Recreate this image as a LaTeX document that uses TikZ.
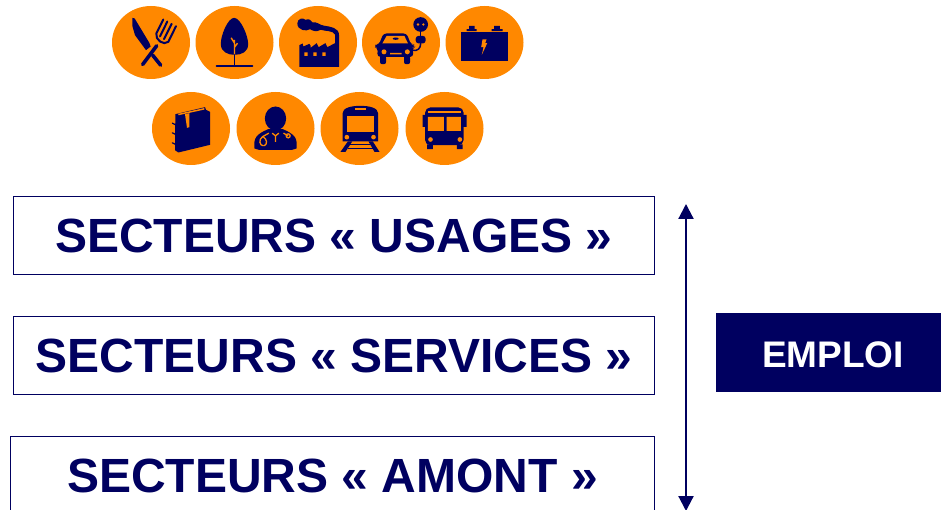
\documentclass[tikz,border=0pt]{standalone}
\usepackage{fontspec}
\setmainfont{Liberation Sans}
\usetikzlibrary{arrows.meta, shapes.geometric}
\definecolor{navyD}{HTML}{000060}
\definecolor{orangeD}{HTML}{FF8800}
\tikzset{
    disc/.style={ellipse, fill=orangeD, minimum width=78pt, minimum height=73pt, inner sep=0pt},
    secteur/.style={draw=navyD, line width=1.3pt, fill=white, text=navyD, inner sep=0pt, minimum width=641pt, minimum height=78pt, font=\fontsize{48}{58}\selectfont\bfseries},
    emploi/.style={fill=navyD, text=white, inner sep=0pt, minimum width=240pt, minimum height=79pt, font=\fontsize{37}{44}\selectfont\bfseries},
    dark/.style={fill=navyD, draw=none},
    hole/.style={fill=orangeD, draw=none},
    darkline/.style={draw=navyD, line cap=round},
    holeline/.style={draw=orangeD},
    flow/.style={draw=navyD, line width=2.2pt, {Triangle[length=15pt,width=15pt]}-{Triangle[length=15pt,width=15pt]}}
}
\begin{document}
\begin{tikzpicture}[x=1pt,y=-1pt]
    \clip (0,0) rectangle (941,510);
    \node[disc] (n1) at (151,42.5) {};
    \node[disc] (n2) at (234.5,42.5) {};
    \node[disc] (n3) at (318,42.5) {};
    \node[disc] (n4) at (401,42.5) {};
    \node[disc] (n5) at (484.5,42.5) {};
    \node[disc] (n6) at (191,128.5) {};
    \node[disc] (n7) at (275.5,128.5) {};
    \node[disc] (n8) at (359.5,128.5) {};
    \node[disc] (n9) at (444.5,128.5) {};
    % knife and fork
    \begin{scope}[shift={(n1.center)}, scale=1/3]
    \fill[dark] (-56,-74) -- (-49,-72) -- (-5,1) -- (-1,12) -- (-15,23) -- (-48,-22) -- (-56,-50) -- cycle;
    \draw[darkline, line width=3.6pt] (5,38) -- (29,68);
    \draw[darkline, line width=3.6pt] (-25,66) -- (17,10);
    \draw[darkline, line width=2pt] (37,-69) -- (16,-27) .. controls (12,-8) and (38,10) .. (52,-2) -- (75,-49);
    \draw[darkline, line width=2pt] (49,-63) -- (27,-18);
    \draw[darkline, line width=2pt] (62,-56) -- (39,-10);
    \end{scope}
    % tree
    \begin{scope}[shift={(n2.center)}, scale=1/3]
    \fill[dark] (-1,-74) .. controls (-20,-74) and (-42,-20) .. (-41,5) .. controls (-41,28) and (-20,37) .. (0,37) .. controls (22,37) and (41,28) .. (41,5) .. controls (41,-20) and (18,-74) .. (-1,-74) -- cycle;
    \draw[holeline, line width=1.4pt] (0,38) -- (0,-8) (0,14) -- (9,2) (0,2) -- (-10,-14);
    \draw[darkline, line width=1.8pt] (0,37) -- (0,70);
    \draw[darkline, line width=1.8pt] (-54,70) -- (54,70);
    \end{scope}
    % factory
    \begin{scope}[shift={(n3.center)}, scale=1/3]
    \fill[dark] (-62,-57) .. controls (-62,-72) and (-45,-76) .. (-38,-68) .. controls (-28,-72) and (-20,-68) .. (-16,-60) .. controls (-4,-64) and (4,-52) .. (20,-50) .. controls (36,-48) and (64,-44) .. (63,-22) -- (63,73) -- (-56,73) -- (-56,8) -- (-46,3) -- (-44,12) -- (-26,4) -- (-22,10) -- (-22,16) -- (-4,2) -- (2,14) -- (22,2) -- (28,14) -- (51,2) -- (51,-24) .. controls (46,-36) and (20,-34) .. (8,-38) .. controls (-6,-30) and (-18,-36) .. (-24,-40) .. controls (-34,-32) and (-62,-36) .. (-62,-57) -- cycle;
    \fill[hole] (-41,30) rectangle (-31,40) (-14,30) rectangle (-4,40) (13,30) rectangle (23,40);
    \end{scope}
    % car and plug
    \begin{scope}[shift={(n4.center)}, scale=1/3]
    \fill[dark, rounded corners=3pt] (-53,-27) -- (17,-27) -- (30,6) -- (39,6) -- (39,14) -- (35,16) -- (37,43) -- (-71,43) -- (-70,16) -- (-78,14) -- (-78,6) -- (-66,6) -- cycle;
    \fill[hole] (-56,3) -- (-43,-20) -- (10,-20) -- (21,3) -- cycle;
    \fill[dark] (-16,-11.5) ellipse (9 and 3.5);
    \fill[hole] (-51,28) circle (7.5) (19,28) circle (7.5) (-33,31) rectangle (2,36);
    \fill[dark, rounded corners=2pt] (-63,40) rectangle (-45,65) (9,40) rectangle (27,65);
    \fill[dark] (59,-54) circle (22);
    \fill[hole] (51,-54) circle (4) (67,-54) circle (4);
    \fill[dark, rounded corners=3pt] (44,-20) rectangle (74,3);
    \draw[darkline, line width=1.5pt] (59,-34) -- (59,-18);
    \draw[darkline, line width=1.5pt] (59,3) .. controls (59,18) and (50,26) .. (35,24);
    \end{scope}
    % battery
    \begin{scope}[shift={(n5.center)}, scale=1/3]
    \fill[dark] (-70,-30) rectangle (70,56);
    \fill[dark] (-54,-34) -- (-54,-40) -- (-46,-40) -- (-46,-50) -- (-30,-50) -- (-30,-40) -- (-24,-40) -- (-24,-34) -- cycle;
    \fill[dark] (21,-34) -- (21,-40) -- (29,-40) -- (29,-50) -- (46,-50) -- (46,-40) -- (54,-40) -- (54,-34) -- cycle;
    \fill[hole] (-6,-9) -- (6,-9) -- (2,2) -- (8,2) -- (-8,37) -- (-3,14) -- (-10,14) -- cycle;
    \end{scope}
    % book
    \begin{scope}[shift={(n6.center)}, scale=1/3]
    \fill[dark] (-47,-43) -- (42,-64) -- (45,-56) -- (57,-50) -- (57,49) -- (-38,72) -- (-48,65) -- cycle;
    \draw[holeline, line width=1.5pt] (-38,-42) -- (40,-59);
    \fill[hole] (-18,-43) -- (-5,-46) -- (-5,-4) -- (-12,-2) -- cycle;
    \draw[darkline, line width=1.2pt] (-56,-16) -- (-46,-11) (-56,13) -- (-46,18) (-56,43) -- (-46,48);
    \end{scope}
    % doctor
    \begin{scope}[shift={(n7.center)}, scale=1/3]
    \fill[dark] (0,-30) ellipse (32 and 36);
    \fill[dark] (-63,60) .. controls (-66,30) and (-60,18) .. (-22,2) -- (22,2) .. controls (60,18) and (66,30) .. (63,60) -- (50,64) -- (-50,64) -- cycle;
    \draw[holeline, line width=1.3pt] (-20,14) -- (-38,24) .. controls (-52,32) and (-48,52) .. (-36,52) (-38,24) .. controls (-24,32) and (-24,48) .. (-34,52);
    \draw[holeline, line width=1.3pt] (-10,14) -- (0,22) -- (10,14) (0,22) -- (0,40) (24,14) -- (38,22);
    \draw[holeline, line width=1.3pt] (38,22) circle (6);
    \end{scope}
    % train
    \begin{scope}[shift={(n8.center)}, scale=1/3]
    \fill[dark] (-51,39) -- (-51,-45) .. controls (-51,-62) and (-25,-68) .. (2,-68) .. controls (30,-68) and (56,-62) .. (56,-45) -- (56,39) -- cycle;
    \fill[hole] (-38,-37) rectangle (42,10);
    \fill[hole] (-15,-60) rectangle (19,-54);
    \fill[hole] (-38,26) circle (7) (42,26) circle (7);
    \fill[dark] (-35,39) -- (-22,39) -- (-42,70) -- (-57,70) -- cycle;
    \fill[dark] (40,39) -- (27,39) -- (45,70) -- (60,70) -- cycle;
    \draw[draw=navyD, line width=1.5pt] (-28,48) -- (32,48) (-36,60) -- (40,60);
    \end{scope}
    % bus
    \begin{scope}[shift={(n9.center)}, scale=1/3]
    \fill[dark, rounded corners=5pt] (-58,-63) rectangle (57,50);
    \fill[dark] (-66,-41) rectangle (-56,-5) (55,-41) rectangle (66,-5);
    \fill[hole] (-49,-51) rectangle (48,-46);
    \fill[hole] (-50,-35) rectangle (-2,7) (6,-35) rectangle (49,7);
    \fill[hole] (-42,33) circle (7) (46,33) circle (7);
    \fill[dark] (-52,48) rectangle (-35,62) (37,48) rectangle (54,62);
    \end{scope}
    \node[secteur] (usages) at (334,235.5) {SECTEURS « USAGES »};
    \node[secteur] (services) at (334,355.5) {SECTEURS « SERVICES »};
    \node[secteur, minimum width=644pt] (amont) at (332.5,475.5) {SECTEURS « AMONT »};
    \node[emploi] (job) at (836,352.5) {};
    \node[text=white, font=\fontsize{37}{44}\selectfont\bfseries, inner sep=0pt] (jobtext) at (833,354.5) {EMPLOI};
    \coordinate (top) at (686,204);
    \coordinate (bottom) at (686,511);
    \draw[flow] (top) -- (bottom);
\end{tikzpicture}
\end{document}
